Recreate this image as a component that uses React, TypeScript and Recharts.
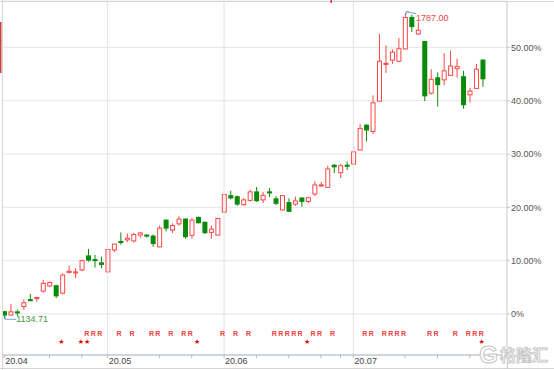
import React from "react";
import {
  ComposedChart,
  Bar,
  Scatter,
  XAxis,
  YAxis,
  CartesianGrid,
  ReferenceLine,
} from "recharts";

// daily candles, values in % vs. the base close
const opens = [
  0.44, -0.2, 0.4, 1.4, 2.7, 2.9, 4.3, 5.25, 5.3, 3.9, 7.8, 7.7, 8.25, 10.9, 10.2, 9.6,
  7.9, 12.0, 13.6, 13.9, 13.7, 14.8, 14.8, 14.6, 12.6, 17.6, 15.75, 16.9, 17.8, 14.75, 18.1, 17.2, 15.3, 14.8,
  19.1, 22.2, 22.0, 20.5, 21.3, 22.9, 21.4, 22.9, 21.6, 19.5, 20.9, 20.6, 21.75, 21.1, 22.5, 24.0, 23.75, 27.9, 26.5, 27.9,
  28.1, 30.75, 35.4, 34.2, 39.9, 46.8, 47.6, 47.4, 49.7, 55.6, 52.5, 51.1, 41.4, 44.3, 43.9, 44.75, 46.0, 44.5, 41.1, 42.3, 47.6,
];
const closes = [
  -0.2, 0.4, 0.2, 2.1, 2.5, 3.1, 5.75, 5.9, 3.4, 7.3, 8.0, 7.9, 10.0, 10.1, 10.0, 9.3,
  12.1, 13.1, 13.4, 14.2, 14.9, 15.2, 14.6, 13.2, 16.1, 16.1, 16.6, 17.8, 14.5, 17.6, 17.1, 15.25, 15.9, 17.9,
  22.4, 21.75, 20.6, 21.4, 22.9, 21.25, 22.25, 22.7, 20.75, 22.2, 19.25, 21.2, 21.1, 21.8, 24.2, 24.2, 27.2, 27.6, 27.8, 27.7,
  30.4, 34.8, 34.5, 39.6, 47.4, 47.0, 49.1, 49.75, 55.6, 53.9, 53.2, 40.9, 44.0, 43.0, 45.6, 46.5, 46.4, 39.25, 41.8, 45.9, 44.1,
];
const highs = [
  0.6, 1.9, 0.8, 2.75, 3.75, 3.1, 6.4, 6.1, 5.5, 7.6, 9.1, 8.6, 10.2, 12.2, 11.1, 10.75,
  12.2, 13.2, 15.3, 15.1, 15.2, 15.4, 14.9, 14.9, 16.6, 17.7, 17.0, 18.3, 17.9, 18.0, 18.3, 17.3, 16.6, 18.0,
  22.5, 23.1, 22.2, 21.7, 23.3, 23.8, 22.9, 23.6, 22.1, 22.3, 21.7, 22.0, 21.9, 22.0, 24.9, 24.75, 27.8, 28.1, 28.1, 28.6,
  31.5, 35.6, 35.6, 41.0, 52.5, 50.4, 49.6, 51.75, 56.5, 56.1, 54.8, 51.2, 45.9, 45.3, 48.9, 49.4, 47.9, 45.6, 42.4, 46.9, 47.8,
];
const lows = [
  -0.9, -0.4, -0.4, 0.75, 2.4, 2.3, 4.0, 5.1, 3.0, 3.7, 7.6, 6.7, 8.0, 9.8, 8.7, 8.6,
  7.8, 11.6, 13.0, 13.5, 13.4, 14.3, 14.3, 12.6, 12.5, 15.5, 15.2, 16.6, 14.1, 14.1, 17.0, 15.0, 14.1, 14.7,
  19.0, 21.5, 20.3, 20.3, 21.1, 21.0, 20.8, 21.9, 20.4, 19.4, 19.2, 20.3, 20.1, 20.75, 22.1, 23.9, 23.7, 26.4, 25.5, 27.0,
  28.0, 30.7, 32.4, 33.75, 39.8, 45.2, 46.9, 47.2, 49.6, 52.9, 52.4, 39.9, 41.1, 38.9, 42.9, 44.7, 44.3, 38.5, 39.7, 42.2, 42.6,
];

const monthTicks = [0, 16, 34, 54];
const monthLabels = ["20.04", "20.05", "20.06", "20.07"];
const axisTicks = [0, 7, 12, 16, 24, 29, 34, 39, 44, 49, 52, 54, 62, 67, 72];
const pctTicks = [0, 10, 20, 30, 40, 50];

// signal marks under the candles (day index)
const rDays = [
  13, 14, 15, 18, 20, 23, 24, 26, 28, 29, 34, 36, 38, 42, 43, 44, 45, 46, 48, 49, 51,
  56, 57, 59, 60, 61, 62, 66, 67, 70, 72, 73, 74,
];
const starDays = [9, 12, 13, 30, 47, 74];

const extremes = [
  { i: 0, y: -0.9, label: "1134.71", side: "low" },
  { i: 62, y: 56.5, label: "1787.00", side: "high" },
];

const RED = "#ff4646";
const GREEN = "#0a8a0a";
const FONT = '"Liberation Sans", Arial, sans-serif';

const candles = opens.map((o, i) => ({
  i,
  open: o,
  close: closes[i],
  high: highs[i],
  low: lows[i],
}));
const rData = rDays.map((i) => ({ i, y: -3.75 }));
const starData = starDays.map((i) => ({ i, y: -5.1 }));

const Candle = (props: any) => {
  const { x, y, width, height, payload } = props;
  if (x == null || !payload) return null;
  const { open, close, high, low } = payload;
  const top = Math.min(y, y + height);
  const h = Math.abs(height);
  const py = (v: number) => top + ((high - v) / (high - low || 1)) * h;
  const cx = x + width / 2;
  const up = close >= open;
  const color = up ? RED : GREEN;
  const bTop = py(Math.max(open, close));
  const bh = Math.max(py(Math.min(open, close)) - bTop, 1);
  return (
    <g>
      <line x1={cx} x2={cx} y1={py(high)} y2={bTop} stroke={color} />
      <line x1={cx} x2={cx} y1={bTop + bh} y2={py(low)} stroke={color} />
      {up ? (
        <rect x={x + 0.5} y={bTop} width={width - 1} height={bh} fill="#fff" stroke={color} />
      ) : (
        <rect x={x} y={bTop - 0.5} width={width} height={bh + 1} fill={color} />
      )}
    </g>
  );
};

const DateTick = (props: any) => {
  const { x, y, payload } = props;
  const k = monthTicks.indexOf(payload.value);
  if (k < 0) return <g />;
  return (
    <text x={x + 1} y={y + 4} fontSize={9} fill="#444" fontFamily={FONT} textAnchor="start">
      {monthLabels[k]}
    </text>
  );
};

const RMark = (p: any) => (
  <text x={p.cx - 1.5} y={p.cy + 2.5} fontSize={7} fontWeight="bold" fill="#f03c3c" fontFamily={FONT} textAnchor="middle">
    R
  </text>
);

const StarMark = (p: any) => (
  <text x={p.cx - 1} y={p.cy + 2.5} fontSize={7} fill="#e00000" fontFamily="DejaVu Sans" textAnchor="middle">
    ★
  </text>
);

const Extreme = (p: any) => {
  const { cx, cy, payload } = p;
  if (payload.side === "low") {
    return (
      <g>
        <path d={`M${cx + 1} ${cy - 3} L${cx + 1} ${cy + 0.5} L${cx + 12} ${cy + 0.5}`} stroke="#6fa8d6" fill="none" />
        <text x={cx + 12} y={cy + 0.5} dominantBaseline="central" fontSize={9} fill="#3f9a3f" fontFamily={FONT}>
          {payload.label}
        </text>
      </g>
    );
  }
  return (
    <g>
      <path d={`M${cx + 1} ${cy + 2} L${cx + 1} ${cy - 1} L${cx + 4} ${cy - 1} M${cx + 1} ${cy - 1} L${cx + 11} ${cy + 1}`} stroke="#6fa8d6" fill="none" />
      <text x={cx + 11} y={cy + 5.5} dominantBaseline="central" fontSize={9} fill="#e84848" fontFamily={FONT}>
        {payload.label}
      </text>
    </g>
  );
};

const fmtPct = (v: number) => (v === 0 ? "0%" : `${v.toFixed(2)}%`);

export default function App() {
  return (
    <div style={{ position: "absolute", left: 0, top: 0, width: 554, height: 370, background: "#fff" }}>
      <ComposedChart width={554} height={370} data={candles} margin={{ top: 1, right: 0, bottom: 0, left: 2 }}>
        <CartesianGrid vertical={false} stroke="#e6e6e6" />
        {monthTicks.slice(1).map((m) => (
          <ReferenceLine key={m} x={m} stroke="#e2e2e2" />
        ))}
        <XAxis
          dataKey="i"
          type="number"
          domain={[-0.34, 77.76]}
          allowDataOverflow
          ticks={axisTicks}
          interval={0}
          tick={<DateTick />}
          tickSize={3}
          axisLine={{ stroke: "#a9b7c6" }}
          tickLine={{ stroke: "#a9b7c6" }}
          height={15}
        />
        <YAxis
          orientation="right"
          width={47}
          domain={[-7.69, 58.69]}
          allowDataOverflow
          ticks={pctTicks}
          interval={0}
          tickFormatter={fmtPct}
          tick={{ fontSize: 9, fill: "#555", fontFamily: FONT }}
          tickSize={3}
          tickMargin={1}
          axisLine={{ stroke: "#c8c8c8" }}
          tickLine={{ stroke: "#c8c8c8" }}
        />
        <Bar
          dataKey={(d: any) => [d.low, d.high]}
          barSize={5}
          shape={<Candle />}
          isAnimationActive={false}
        />
        <Scatter data={rData} dataKey="y" shape={RMark} isAnimationActive={false} />
        <Scatter data={starData} dataKey="y" shape={StarMark} isAnimationActive={false} />
        <Scatter data={extremes} dataKey="y" shape={Extreme} isAnimationActive={false} />
      </ComposedChart>
      <svg width={554} height={370} style={{ position: "absolute", left: 0, top: 0, pointerEvents: "none" }}>
        <line x1={0} x2={554} y1={1.5} y2={1.5} stroke="#d6d6d6" />
        <line x1={2.5} x2={2.5} y1={0} y2={370} stroke="#d6d6d6" />
        <line x1={0} x2={554} y1={368.5} y2={368.5} stroke="#d6d6d6" />
        <line x1={507.5} x2={507.5} y1={355} y2={369} stroke="#c8c8c8" />
        <rect x={0} y={22} width={1.5} height={51} fill="#d04040" />
        <rect x={330.5} y={0} width={1.5} height={3} fill="#e03030" />
        <text x={488.5} y={354} textAnchor="middle" dominantBaseline="central" fontSize={24} fontWeight={900}
          fontFamily={FONT} fill="#fff" stroke="#c4c4c4" strokeWidth={1}>
          G
        </text>
        <text x={500} y={354} dominantBaseline="central" fontSize={16} fontWeight={700}
          fontFamily='"Noto Sans CJK SC", sans-serif' fill="#fff" stroke="#c4c4c4" strokeWidth={0.9}>
          格隆汇
        </text>
      </svg>
    </div>
  );
}
